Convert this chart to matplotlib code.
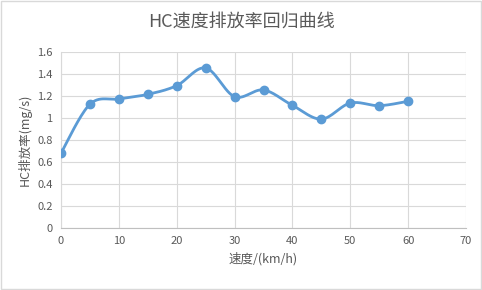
import numpy as np
import matplotlib
matplotlib.use("Agg")
import matplotlib.pyplot as plt
from matplotlib.patches import Rectangle

plt.rcParams['font.family'] = ['Noto Sans CJK SC', 'DejaVu Sans']

speed = [0, 5, 10, 15, 20, 25, 30, 35, 40, 45, 50, 55, 60]
hc_rate = [0.68, 1.125, 1.173, 1.215, 1.294, 1.455, 1.194, 1.255, 1.115, 0.99, 1.136, 1.112, 1.152]
x_ticks = [0, 10, 20, 30, 40, 50, 60, 70]
y_ticks = [0, 0.2, 0.4, 0.6, 0.8, 1.0, 1.2, 1.4, 1.6]

TEXT = '#595959'
GRID = '#d9d9d9'
BLUE = '#5b9bd5'


def smooth(xs, ys, n=30):
    # Catmull-Rom style smoothing, like Excel's "smoothed line"
    xs = np.asarray(xs, float)
    ys = np.asarray(ys, float)
    px = np.concatenate([[xs[0]], xs, [xs[-1]]])
    py = np.concatenate([[ys[0]], ys, [ys[-1]]])
    out_x, out_y = [], []
    t = np.linspace(0, 1, n)
    for i in range(1, len(px) - 2):
        p0, p1, p2, p3 = [np.array([px[j], py[j]]) for j in range(i - 1, i + 3)]
        c1 = p1 + (p2 - p0) / 6
        c2 = p2 - (p3 - p1) / 6
        b = ((1 - t) ** 3)[:, None] * p1 + (3 * (1 - t) ** 2 * t)[:, None] * c1 \
            + (3 * (1 - t) * t ** 2)[:, None] * c2 + (t ** 3)[:, None] * p2
        out_x.extend(b[:, 0])
        out_y.extend(b[:, 1])
    return out_x, out_y


fig = plt.figure(figsize=(4.82, 2.90), dpi=100)
fig.patch.set_facecolor('white')
fig.patches.append(Rectangle((0.002, 0.003), 0.995, 0.994, transform=fig.transFigure,
                             fill=False, edgecolor='#d9d9d9', linewidth=1))

ax = fig.add_axes([61 / 482, 1 - 228 / 290, 405 / 482, 176 / 290])
sx, sy = smooth(speed, hc_rate)
ax.plot(sx, sy, color=BLUE, linewidth=2, zorder=3)
ax.plot(speed, hc_rate, 'o', color=BLUE, markersize=6, zorder=4)

ax.set_xlim(0, 70)
ax.set_ylim(0, 1.6)
ax.set_xticks(x_ticks)
ax.set_yticks(y_ticks)
ax.set_yticklabels(['0', '0.2', '0.4', '0.6', '0.8', '1', '1.2', '1.4', '1.6'])
ax.grid(True, color=GRID, linewidth=0.8)
ax.set_axisbelow(True)
for s in ['top', 'right']:
    ax.spines[s].set_visible(False)
ax.spines['left'].set_color(GRID)
ax.spines['bottom'].set_color('#bfbfbf')
ax.tick_params(length=0, labelsize=8, colors=TEXT, pad=6)

ax.set_xlabel('速度/(km/h)', fontsize=9, color=TEXT, labelpad=4)
ax.set_ylabel('HC排放率(mg/s)', fontsize=9, color=TEXT, labelpad=4)
fig.text(0.5, 1 - 22 / 290, 'HC速度排放率回归曲线', ha='center', va='center',
         fontsize=13, color=TEXT)

fig.savefig('out.png', dpi=100)
